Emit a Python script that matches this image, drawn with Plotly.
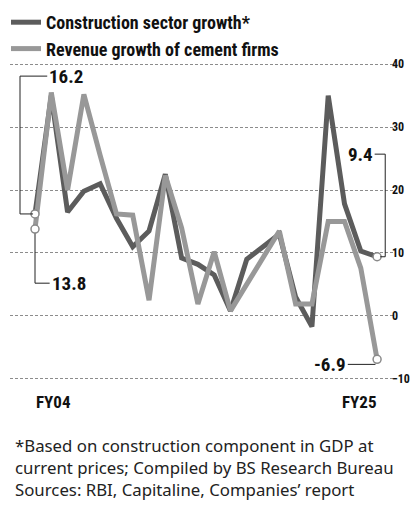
import plotly.graph_objects as go

# ---- data ----
fy = ["FY04", "FY05", "FY06", "FY07", "FY08", "FY09", "FY10", "FY11", "FY12", "FY13", "FY14",
      "FY15", "FY16", "FY17", "FY18", "FY19", "FY20", "FY21", "FY22", "FY23", "FY24", "FY25"]
construction = [16.2, 35.0, 16.5, 19.8, 21.0, 15.5, 11.0, 13.5, 22.5, 9.2, 8.2,
                6.5, 0.8, 9.0, 11.0, 13.0, 3.0, -1.7, 35.0, 17.8, 10.3, 9.4]
cement = [13.8, 35.5, 20.0, 35.2, 25.5, 16.2, 16.0, 2.5, 22.3, 14.0, 1.9,
          10.2, 0.8, 5.0, 9.0, 13.5, 1.9, 1.9, 15.0, 15.0, 7.6, -6.9]
y_ticks = [40, 30, 20, 10, 0, -10]
names = ["Construction sector growth*", "Revenue growth of cement firms"]
footnote = ["*Based on construction component in GDP at",
            "current prices; Compiled by BS Research Bureau",
            "Sources: RBI, Capitaline, Companies\u2019 report"]

DARK = "#5c5c5c"
LIGHT = "#989898"
COND = "Roboto Condensed, Roboto, sans-serif"
W, H = 412, 510
ML, MR, MT, MB = 10, 17, 61, 128
PW, PH = W - ML - MR, H - MT - MB
n = len(fy)
first, last = 0, n - 1


def py(px):
    """paper y from pixel row"""
    return (H - MB - px) / PH


def px_x(px):
    return (px - ML) / PW


fig = go.Figure()
fig.add_trace(go.Scatter(x=fy, y=construction, mode="lines", name=names[0],
                         line=dict(color=DARK, width=5)))
fig.add_trace(go.Scatter(x=fy, y=cement, mode="lines", name=names[1],
                         line=dict(color=LIGHT, width=5)))
# endpoint markers
for series in (construction, cement):
    fig.add_trace(go.Scatter(x=[fy[first], fy[last]], y=[series[first], series[last]],
                             mode="markers", showlegend=False,
                             marker=dict(size=8, color="white",
                                         line=dict(color="#8a8a8a", width=1.5))))

lab_font = dict(family=COND, size=19, color="#111", weight="bold")
line_style = dict(color="#222", width=1)

# 16.2 (construction, first)
top_y = 38.1
fig.add_shape(type="path", xref="x", yref="y", line=line_style,
              path=f"M {first - 0.12} {construction[first]} L {first - 0.92} {construction[first]} "
                   f"L {first - 0.92} {top_y} L {first + 0.75} {top_y}")
fig.add_annotation(x=first + 0.75, y=top_y, xref="x", yref="y", text=str(construction[first]),
                   showarrow=False, xanchor="left", yanchor="middle", font=lab_font)
# 13.8 (cement, first)
low_y = 5.2
fig.add_shape(type="path", xref="x", yref="y", line=line_style,
              path=f"M {first} {cement[first] - 0.7} L {first} {low_y} L {first + 0.9} {low_y}")
fig.add_annotation(x=first + 0.9, y=low_y, xref="x", yref="y", text=str(cement[first]),
                   showarrow=False, xanchor="left", yanchor="middle", font=lab_font)
# 9.4 (construction, last)
hi_y = 25.7
fig.add_shape(type="path", xref="x", yref="y", line=line_style,
              path=f"M {last - 0.15} {hi_y} L {last + 0.5} {hi_y} L {last + 0.5} {construction[last]} "
                   f"L {last + 0.2} {construction[last]}")
fig.add_annotation(x=last - 0.15, y=hi_y, xref="x", yref="y", text=str(construction[last]),
                   showarrow=False, xanchor="right", yanchor="middle", font=lab_font)
# -6.9 (cement, last)
neg_y = cement[last] - 0.8
fig.add_shape(type="line", xref="x", yref="y", line=line_style,
              x0=last - 1.8, x1=last - 0.1, y0=neg_y, y1=neg_y)
fig.add_annotation(x=last - 1.8, y=neg_y, xref="x", yref="y", text=str(cement[last]),
                   showarrow=False, xanchor="right", yanchor="middle", font=lab_font)

# FY labels
fy_font = dict(family=COND, size=17, color="#111", weight="bold")
fig.add_annotation(x=fy[first], y=py(402), xref="x", yref="paper", text=fy[first],
                   showarrow=False, xanchor="left", yanchor="middle", xshift=-1, font=fy_font)
fig.add_annotation(x=fy[last], y=py(402), xref="x", yref="paper", text=fy[last],
                   showarrow=False, xanchor="right", yanchor="middle", xshift=2, font=fy_font)

# footnote
fig.add_annotation(x=px_x(13), y=py(432), xref="paper", yref="paper",
                   text="<br>".join(footnote), showarrow=False,
                   xanchor="left", yanchor="top", align="left",
                   font=dict(family="Noto Sans, sans-serif", size=16.8, color="#222"))

fig.update_layout(
    width=W, height=H,
    margin=dict(l=ML, r=MR, t=MT, b=MB, autoexpand=False),
    paper_bgcolor="white", plot_bgcolor="white",
    showlegend=True,
    legend=dict(x=px_x(6), y=py(4), xanchor="left", yanchor="top",
                font=dict(family=COND, size=18, color="#111", weight="bold"),
                bgcolor="rgba(0,0,0,0)", tracegroupgap=0, itemwidth=30),
    xaxis=dict(range=[-25 / 16.29, -25 / 16.29 + PW / 16.29], showgrid=False,
               showticklabels=False, zeroline=False, showline=False, ticks=""),
    yaxis=dict(range=[-10.5, 40.5], side="right", tickvals=y_ticks,
               showgrid=True, gridcolor="#8c8c8c", griddash="3px,2px", gridwidth=1,
               zeroline=False, showline=False, ticks="", automargin=False,
               ticklabelstandoff=-4,
               tickfont=dict(family=COND, size=12, color="#111", weight="bold")),
)
fig.write_html("out.html", config={"displayModeBar": False},
               post_script="document.body.style.margin='0';document.body.style.padding='0';")
